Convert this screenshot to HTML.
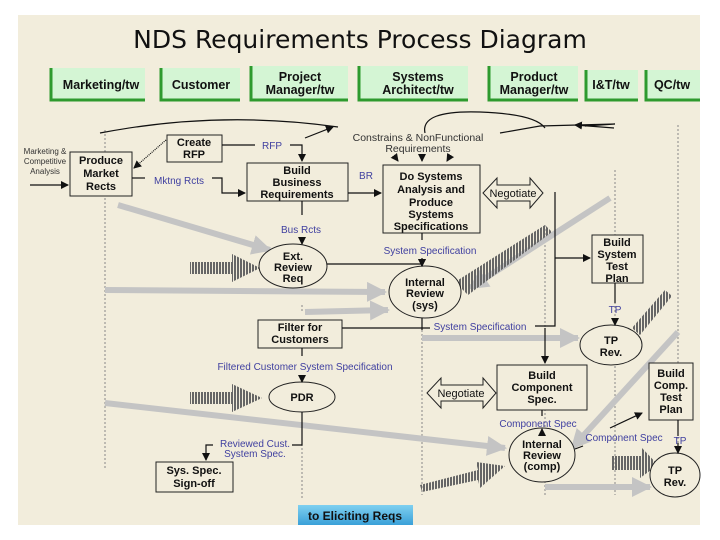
<!DOCTYPE html>
<html><head><meta charset="utf-8"><style>
body{margin:0;background:#fff;width:720px;height:540px;overflow:hidden}
svg{display:block}
text{font-family:"Liberation Sans",sans-serif}
.b{font-weight:bold;font-size:11px;fill:#111}
.l{font-size:10px;fill:#4040a0}
.h{font-size:12.5px;fill:#111;font-weight:bold}
</style></head><body>
<svg width="720" height="540" viewBox="0 0 720 540">
<defs>
<marker id="a" markerWidth="8" markerHeight="8" refX="7" refY="4" orient="auto" markerUnits="userSpaceOnUse"><path d="M0,0L8,4L0,8z" fill="#111"/></marker>
<marker id="g" markerWidth="20" markerHeight="20" refX="18" refY="10" orient="auto" markerUnits="userSpaceOnUse"><path d="M0,0L20,10L0,20z" fill="#c4c4c4"/></marker>
<pattern id="st" width="3" height="4" patternUnits="userSpaceOnUse"><rect width="2" height="4" fill="#666"/></pattern>
<linearGradient id="bl" x1="0" y1="0" x2="0" y2="1"><stop offset="0" stop-color="#7fd0f0"/><stop offset="1" stop-color="#3aa0d8"/></linearGradient>
</defs>
<rect x="18" y="15" width="682" height="510" fill="#f2eddc"/>
<text x="360" y="48" text-anchor="middle" font-size="25" fill="#111" style="font-family:'DejaVu Sans',sans-serif">NDS Requirements Process Diagram</text>
<g>
<rect x="50" y="68" width="95" height="32" fill="#d4f5d4"/><path d="M51,68V100H145" stroke="#2e9a2e" stroke-width="3" fill="none"/>
<rect x="160" y="68" width="80" height="32" fill="#d4f5d4"/><path d="M161,68V100H240" stroke="#2e9a2e" stroke-width="3" fill="none"/>
<rect x="250" y="66" width="98" height="34" fill="#d4f5d4"/><path d="M251,66V100H348" stroke="#2e9a2e" stroke-width="3" fill="none"/>
<rect x="358" y="66" width="110" height="34" fill="#d4f5d4"/><path d="M359,66V100H468" stroke="#2e9a2e" stroke-width="3" fill="none"/>
<rect x="488" y="66" width="90" height="34" fill="#d4f5d4"/><path d="M489,66V100H578" stroke="#2e9a2e" stroke-width="3" fill="none"/>
<rect x="585" y="70" width="53" height="30" fill="#d4f5d4"/><path d="M586,70V100H638" stroke="#2e9a2e" stroke-width="3" fill="none"/>
<rect x="645" y="70" width="55" height="30" fill="#d4f5d4"/><path d="M646,70V100H700" stroke="#2e9a2e" stroke-width="3" fill="none"/>
</g>
<g class="h" text-anchor="middle">
<text x="101" y="89">Marketing/tw</text><text x="201" y="89">Customer</text>
<text x="300" y="81">Project</text><text x="300" y="94">Manager/tw</text>
<text x="418" y="81">Systems</text><text x="418" y="94">Architect/tw</text>
<text x="534" y="81">Product</text><text x="534" y="94">Manager/tw</text>
<text x="611" y="89">I&amp;T/tw</text><text x="672" y="89">QC/tw</text>
</g>
<g stroke="#888" stroke-dasharray="2,2" stroke-width="1">
<line x1="105" y1="130" x2="105" y2="470"/><line x1="302" y1="380" x2="302" y2="500"/>
<line x1="422" y1="310" x2="422" y2="495"/><line x1="545" y1="225" x2="545" y2="495"/><line x1="615" y1="170" x2="615" y2="495"/><line x1="678" y1="125" x2="678" y2="495"/>
<line x1="302" y1="305" x2="302" y2="312"/>
</g>
<g stroke="#c4c4c4" stroke-width="6" fill="none" marker-end="url(#g)">
<line x1="118" y1="205" x2="270" y2="250"/>
<line x1="105" y1="290" x2="385" y2="292"/>
<line x1="305" y1="312" x2="388" y2="310"/>
<line x1="610" y1="198" x2="470" y2="288"/>
<line x1="422" y1="338" x2="578" y2="338"/>
<line x1="105" y1="403" x2="505" y2="448"/>
<line x1="678" y1="332" x2="572" y2="448"/>
<line x1="545" y1="487" x2="650" y2="487"/>
</g>
<g fill="url(#st)">
<path d="M190,262H232V254L260,268L232,282V274H190z"/>
<path d="M190,392H232V384L262,398L232,412V404H190z"/>
<path d="M545,225L552,232L468,295L455,282z"/>
<path d="M665,290L672,296L640,335L632,328z"/>
<path d="M420,485L478,470L476,462L505,466L480,488L478,480L422,492z"/>
<path d="M612,456H642V448L658,465L640,478V470H612z"/>
</g>
<g fill="#f2eddc" stroke="#222" stroke-width="1">
<rect x="70" y="152" width="62" height="44"/>
<rect x="167" y="135" width="55" height="27"/>
<rect x="247" y="163" width="101" height="38"/>
<rect x="383" y="165" width="97" height="68"/>
<rect x="592" y="235" width="51" height="48"/>
<rect x="258" y="320" width="84" height="28"/>
<rect x="497" y="365" width="90" height="45"/>
<rect x="649" y="363" width="44" height="57"/>
<rect x="156" y="462" width="77" height="30"/>
<ellipse cx="293" cy="266" rx="34" ry="22"/>
<ellipse cx="425" cy="292" rx="36" ry="26"/>
<ellipse cx="611" cy="345" rx="31" ry="20"/>
<ellipse cx="302" cy="397" rx="33" ry="15"/>
<ellipse cx="542" cy="455" rx="33" ry="27"/>
<ellipse cx="675" cy="475" rx="25" ry="22"/>
<path d="M483,193L497,178V185H530V178L543,193L530,208V201H497V208z"/>
<path d="M427,393L441,378V385H483V378L496,393L483,408V401H441V408z"/>
</g>
<g stroke="#111" stroke-width="1.2" fill="none">
<line x1="30" y1="185" x2="68" y2="185" marker-end="url(#a)"/>
<path d="M132,178H145"/><path d="M212,178H222V193H245" marker-end="url(#a)"/>
<path d="M222,145H255"/><path d="M290,145H302V161" marker-end="url(#a)"/>
<path d="M166,140L134,168" stroke-dasharray="1,1" marker-end="url(#a)"/>
<path d="M348,193H381" marker-end="url(#a)"/>
<path d="M302,201V215"/><path d="M302,238V244" marker-end="url(#a)"/>
<path d="M327,264H422V266" marker-end="url(#a)"/>
<path d="M422,233V240"/><path d="M422,258V266" marker-end="url(#a)"/>
<path d="M342,328H430"/><path d="M422,318V330"/><path d="M535,326H555V192"/>
<path d="M545,328V363" marker-end="url(#a)"/>
<path d="M302,348V356"/><path d="M302,375V382" marker-end="url(#a)"/>
<path d="M302,412V445H292"/><path d="M213,445H206V460" marker-end="url(#a)"/>
<path d="M555,258H590" marker-end="url(#a)"/>
<path d="M615,283V303"/><path d="M615,318V325" marker-end="url(#a)"/>
<path d="M542,410V416"/><path d="M542,430V429" marker-end="url(#a)"/>
<path d="M575,449L583,446"/><path d="M610,428L642,413" marker-end="url(#a)"/>
<path d="M678,420V436"/><path d="M678,443V453" marker-end="url(#a)"/>
<path d="M100,133Q220,110 338,127" /><path d="M305,138L333,127" marker-end="url(#a)"/>
<path d="M425,133Q420,110 480,112Q535,114 545,128"/>
<path d="M500,133L540,126L615,124L585,126"/><path d="M614,128L575,125" marker-end="url(#a)"/>
<path d="M395,157L398,161" marker-end="url(#a)"/><path d="M422,157V161" marker-end="url(#a)"/><path d="M450,156L447,161" marker-end="url(#a)"/>
</g>
<g class="b" text-anchor="middle">
<text x="101" y="164">Produce</text><text x="101" y="177">Market</text><text x="101" y="190">Rects</text>
<text x="194" y="146">Create</text><text x="194" y="158">RFP</text>
<text x="297" y="174">Build</text><text x="297" y="186">Business</text><text x="297" y="198">Requirements</text>
<text x="431" y="180">Do Systems</text><text x="431" y="193">Analysis and</text><text x="431" y="206">Produce</text><text x="431" y="218">Systems</text><text x="431" y="230">Specifications</text>
<text x="513" y="197" style="font-weight:normal">Negotiate</text>
<text x="293" y="260">Ext.</text><text x="293" y="271">Review</text><text x="293" y="282">Req</text>
<text x="425" y="286">Internal</text><text x="425" y="297">Review</text><text x="425" y="309">(sys)</text>
<text x="617" y="246">Build</text><text x="617" y="258">System</text><text x="617" y="270">Test</text><text x="617" y="282">Plan</text>
<text x="300" y="331">Filter for</text><text x="300" y="343">Customers</text>
<text x="611" y="344">TP</text><text x="611" y="356">Rev.</text>
<text x="542" y="379">Build</text><text x="542" y="391">Component</text><text x="542" y="403">Spec.</text>
<text x="461" y="397" style="font-weight:normal">Negotiate</text>
<text x="671" y="377">Build</text><text x="671" y="389">Comp.</text><text x="671" y="401">Test</text><text x="671" y="413">Plan</text>
<text x="302" y="401">PDR</text>
<text x="542" y="448">Internal</text><text x="542" y="459">Review</text><text x="542" y="470">(comp)</text>
<text x="675" y="474">TP</text><text x="675" y="486">Rev.</text>
<text x="194" y="474">Sys. Spec.</text><text x="194" y="487">Sign-off</text>
</g>
<g text-anchor="middle" font-size="8" fill="#333"><text x="45" y="154">Marketing &amp;</text><text x="45" y="164">Competitive</text><text x="45" y="174">Analysis</text></g>
<g class="l" text-anchor="middle">
<text x="272" y="149">RFP</text><text x="179" y="184">Mktng Rcts</text><text x="366" y="179">BR</text>
<text x="301" y="233">Bus Rcts</text><text x="430" y="254">System Specification</text>
<text x="480" y="330">System Specification</text><text x="305" y="370">Filtered Customer System Specification</text>
<text x="255" y="447">Reviewed Cust.</text><text x="255" y="457">System Spec.</text>
<text x="538" y="427">Component Spec</text><text x="624" y="441">Component Spec</text>
<text x="615" y="313">TP</text><text x="680" y="444">TP</text>
</g>
<g text-anchor="middle" font-size="10.5" fill="#333"><text x="418" y="141">Constrains &amp; NonFunctional</text><text x="418" y="152">Requirements</text></g>
<rect x="298" y="505" width="115" height="20" fill="url(#bl)"/>
<text x="355" y="520" text-anchor="middle" font-weight="bold" font-size="12" fill="#111">to Eliciting Reqs</text>
</svg>
</body></html>
